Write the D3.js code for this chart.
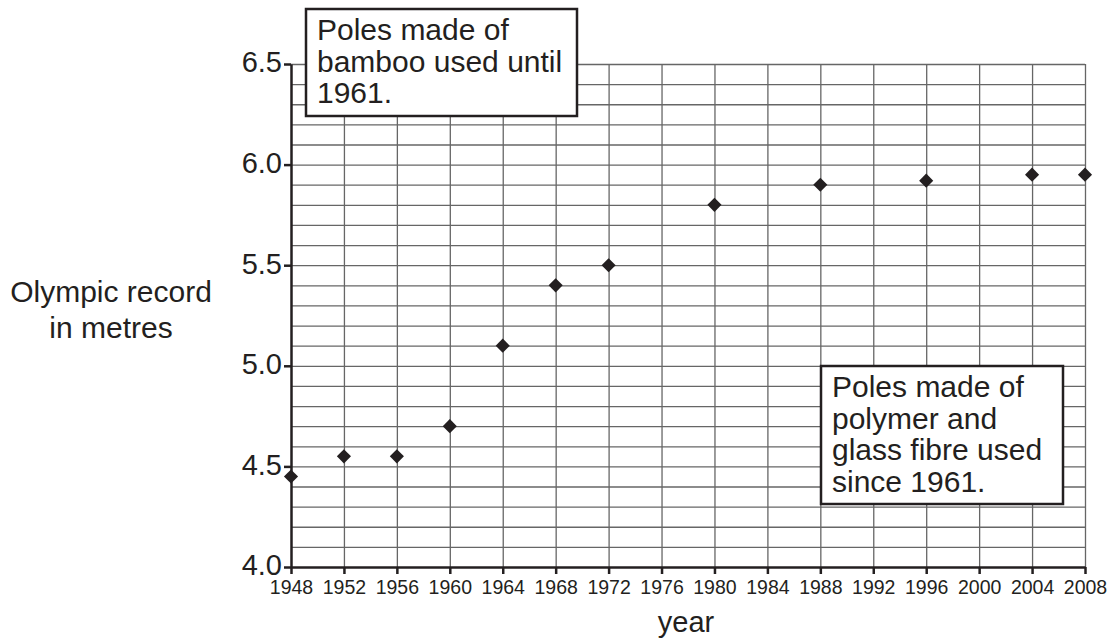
<html>
    <head>
        <style>
        body {
            margin: 0;
            background: white;
        }

        svg text {
            font-family: 'Liberation Sans', Arial, Helvetica, sans-serif;
        }

        .grid line {
            stroke: #666;
            stroke-width: 1.3;
        }

        .grid path {
            display: none;
        }

        .axis path, .axis line {
            stroke: #231f20;
            stroke-width: 2.5;
        }

        .axis text {
            fill: #231f20;
        }

        .note rect {
            fill: white;
            stroke: #231f20;
            stroke-width: 2.5;
        }

        .note text, .label {
            fill: #231f20;
        }
        </style>
    </head>
    <body>
        <svg width="1115" height="642"></svg>

        <script src="https://d3js.org/d3.v7.min.js"></script>

        <script>
            // olympic pole vault records
            let years = [1948, 1952, 1956, 1960, 1964, 1968, 1972, 1980, 1988, 1996, 2004, 2008]
            let records = [4.45, 4.55, 4.55, 4.70, 5.10, 5.40, 5.50, 5.80, 5.90, 5.92, 5.95, 5.95]

            let xTicks = d3.range(1948, 2009, 4)
            let yTicks = [4.0, 4.5, 5.0, 5.5, 6.0, 6.5]
            let yGrid = d3.range(41, 66).map(d => d / 10)

            let notes = [
                {lines: ["Poles made of", "bamboo used until", "1961."]},
                {lines: ["Poles made of", "polymer and", "glass fibre used", "since 1961."]}
            ]

            let svg = d3.select("svg")

            let plotLeft = 291, plotRight = 1085, plotTop = 64, plotBottom = 567

            let x = d3.scaleLinear()
                .domain([1948, 2008])
                .range([plotLeft, plotRight])

            let y = d3.scaleLinear()
                .domain([4.0, 6.5])
                .range([plotBottom, plotTop])

            // grid
            svg.append("g")
                .attr("class", "grid")
                .attr("transform", `translate(0,${plotBottom})`)
                .call(d3.axisBottom(x).tickValues(xTicks.slice(1)).tickSize(-(plotBottom - plotTop)).tickFormat(""))

            svg.append("g")
                .attr("class", "grid")
                .attr("transform", `translate(${plotLeft},0)`)
                .call(d3.axisLeft(y).tickValues(yGrid).tickSize(-(plotRight - plotLeft)).tickFormat(""))

            // note boxes
            let boxes = [
                {x: 306, y: 9, w: 271, h: 107, tx: 317, ty: 40},
                {x: 821, y: 366, w: 242, h: 138, tx: 832, ty: 397}
            ]

            boxes.forEach((b, i) => {
                let g = svg.append("g").attr("class", "note")
                g.append("rect")
                    .attr("x", b.x).attr("y", b.y)
                    .attr("width", b.w).attr("height", b.h)
                g.selectAll("text")
                    .data(notes[i].lines)
                    .enter().append("text")
                    .attr("x", b.tx)
                    .attr("y", (d, j) => b.ty + j * 31.5)
                    .style("font-size", "30px")
                    .text(d => d)
            })

            // axes
            svg.append("g")
                .attr("class", "axis")
                .attr("transform", `translate(0,${plotBottom})`)
                .call(d3.axisBottom(x).tickValues(xTicks).tickSize(7).tickSizeOuter(0).tickFormat(d3.format("d")))
                .call(g => g.selectAll("text").style("font-size", "19.5px").attr("dy", "0.9em").attr("y", 9))

            svg.append("g")
                .attr("class", "axis")
                .attr("transform", `translate(${plotLeft},0)`)
                .call(d3.axisLeft(y).tickValues(yTicks).tickSize(7).tickSizeOuter(0).tickFormat(d3.format(".1f")))
                .call(g => g.selectAll("text").style("font-size", "29px").attr("x", -9).attr("dy", "0.27em"))

            // points
            let diamond = d3.symbol().type(d3.symbolSquare).size(100)

            svg.append("g")
                .selectAll("path")
                .data(years)
                .enter().append("path")
                .attr("d", diamond)
                .attr("transform", (d, i) => `translate(${x(d)},${y(records[i])}) rotate(45)`)
                .style("fill", "#231f20")

            // labels
            svg.append("text")
                .attr("class", "label")
                .attr("text-anchor", "middle")
                .attr("x", 111).attr("y", 302)
                .style("font-size", "30px")
                .text("Olympic record")

            svg.append("text")
                .attr("class", "label")
                .attr("text-anchor", "middle")
                .attr("x", 111).attr("y", 338)
                .style("font-size", "30px")
                .text("in metres")

            svg.append("text")
                .attr("class", "label")
                .attr("text-anchor", "middle")
                .attr("x", 686).attr("y", 632)
                .style("font-size", "29px")
                .text("year")
        </script>
    </body>
</html>
